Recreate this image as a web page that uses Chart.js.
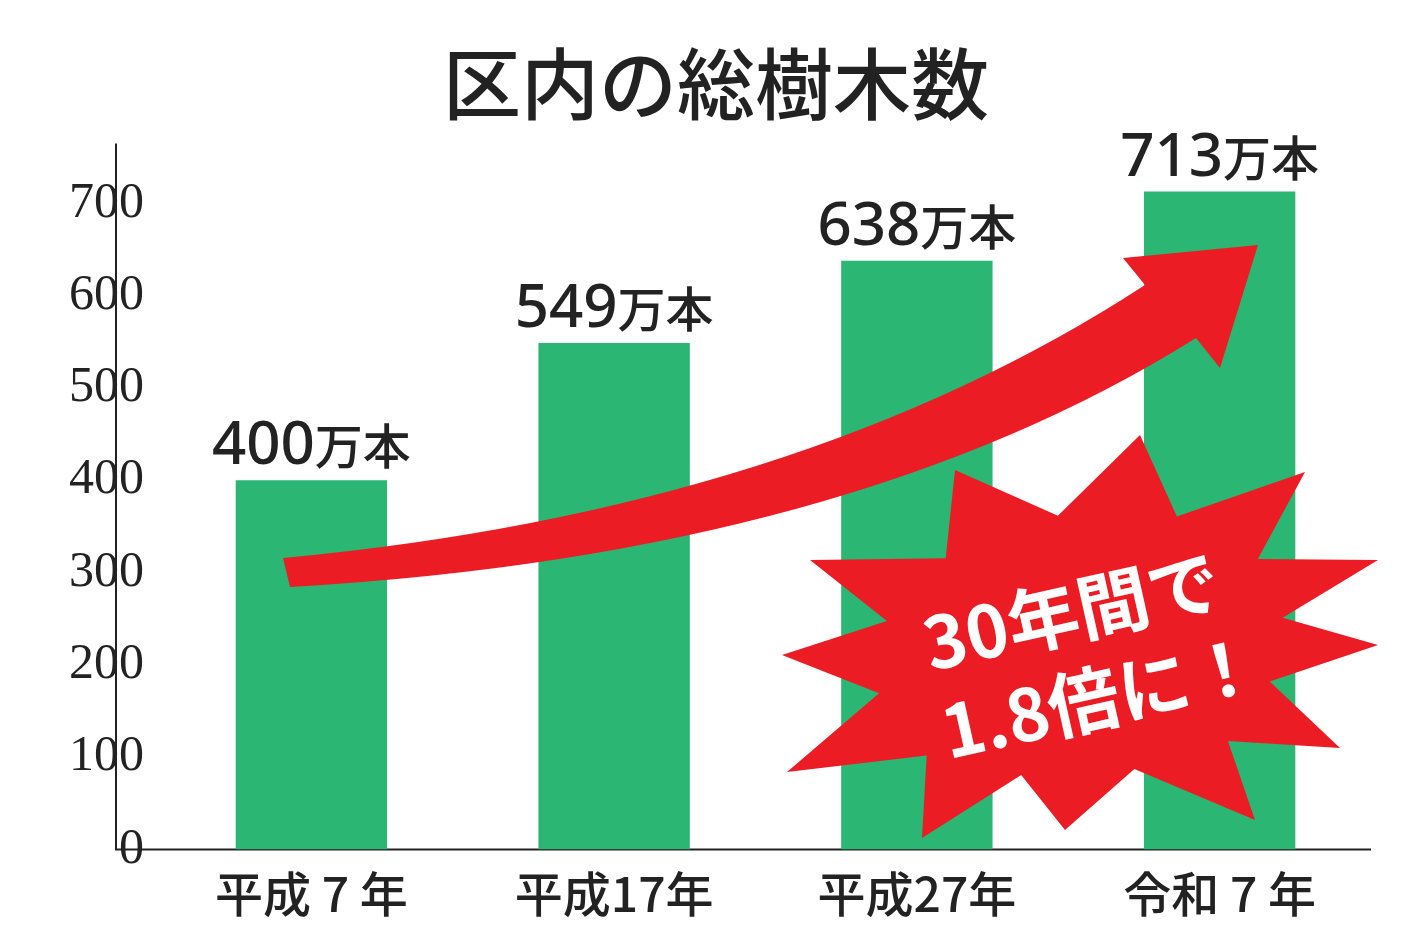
<!DOCTYPE html>
<html><head><meta charset="utf-8">
<script src="https://cdn.jsdelivr.net/npm/chart.js@4"></script>
<style>html,body{margin:0;background:#fff}#w{width:1424px;height:931px}</style>
</head><body><div id="w"><canvas id="c" width="1424" height="931"></canvas></div>
<script>
const categories = ["平成 7 年","平成17年","平成27年","令和 7 年"];
const values = [400, 549, 638, 713];
const valueLabels = ["400","549","638","713"];
const yTicks = [0,100,200,300,400,500,600,700];

const deco = {
  id:'deco',
  beforeDatasetsDraw(ch){
    const c=ch.ctx, a=ch.chartArea;
    c.save();c.strokeStyle='#222';c.lineWidth=2;c.beginPath();
    c.moveTo(a.left-44,a.top);c.lineTo(a.left-44,a.bottom);c.lineTo(a.right,a.bottom);c.stroke();c.restore();
  },
  afterDatasetsDraw(ch){
    const c=ch.ctx, x=ch.scales.x, y=ch.scales.y;
    ch.getDatasetMeta(0).data.forEach((b,i)=>{
      c.save();c.fillStyle='#222';c.textBaseline='alphabetic';c.textAlign='left';
      const n=valueLabels[i];
      c.font='500 60px "Noto Sans"'; const w1=c.measureText(n).width;
      c.font='500 48px "Noto Sans CJK JP"'; const w2=c.measureText('万本').width;
      let sx=b.x-(w1+w2)/2, by=b.y-16;
      c.font='500 60px "Noto Sans"'; c.fillText(n,sx,by);
      c.font='500 48px "Noto Sans CJK JP"'; c.fillText('万本',sx+w1,by);
      c.restore();
    });
    c.save();c.fillStyle='#ec1c24';
    c.beginPath();
    c.moveTo(283,558);
    c.quadraticCurveTo(800,510,1145,285);
    c.lineTo(1123,258);c.lineTo(1258,245);c.lineTo(1220,368);c.lineTo(1196,338);
    c.quadraticCurveTo(850,555,290,587);
    c.closePath();c.fill();
    const cx=1080, cy=650;
    const outer=[[-125,-180],[60,-215],[225,-178],[298,-90],[298,-5],[260,98],[175,170],[-15,180],[-158,188],[-293,122],[-298,5],[-270,-90]];
    c.beginPath();
    outer.forEach((p,i)=>{
      const q=outer[(i+1)%outer.length];
      const mx=(p[0]+q[0])/2*0.68, my=(p[1]+q[1])/2*0.68;
      if(i===0)c.moveTo(cx+p[0],cy+p[1]);else c.lineTo(cx+p[0],cy+p[1]);
      c.lineTo(cx+mx,cy+my);
    });
    c.closePath();c.fill();
    c.translate(cx,cy);c.rotate(-0.22);
    c.fillStyle='#fff';c.textAlign='center';c.font='bold 72px "Noto Sans CJK JP"';
    c.fillText('30年間で',0,-12);c.fillText('1.8倍に！',10,78);
    c.restore();
  }
};

new Chart(document.getElementById('c'),{
  type:'bar',
  data:{labels:categories,datasets:[{data:values,backgroundColor:'#2bb673',barPercentage:0.5,categoryPercentage:1}]},
  options:{
    responsive:false,animation:false,
    layout:{padding:{left:61,right:53,top:0,bottom:0}},
    plugins:{legend:{display:false},tooltip:{enabled:false},
      title:{display:true,text:'区内の総樹木数',color:'#222',font:{family:'"Noto Sans CJK JP"',size:78,weight:'500'},padding:{top:38,bottom:12}}},
    scales:{
      x:{grid:{display:false},border:{display:false},ticks:{color:'#222',font:{family:'"Noto Sans CJK JP"',size:48,weight:'500'},padding:8}},
      y:{min:0,max:765,afterBuildTicks:s=>{s.ticks=yTicks.map(v=>({value:v}))},
        grid:{display:false},border:{display:false},
        ticks:{color:'#222',font:{family:'"Liberation Sans Narrow"',size:50},padding:8}}
    }
  },
  plugins:[deco]
});
</script></body></html>
